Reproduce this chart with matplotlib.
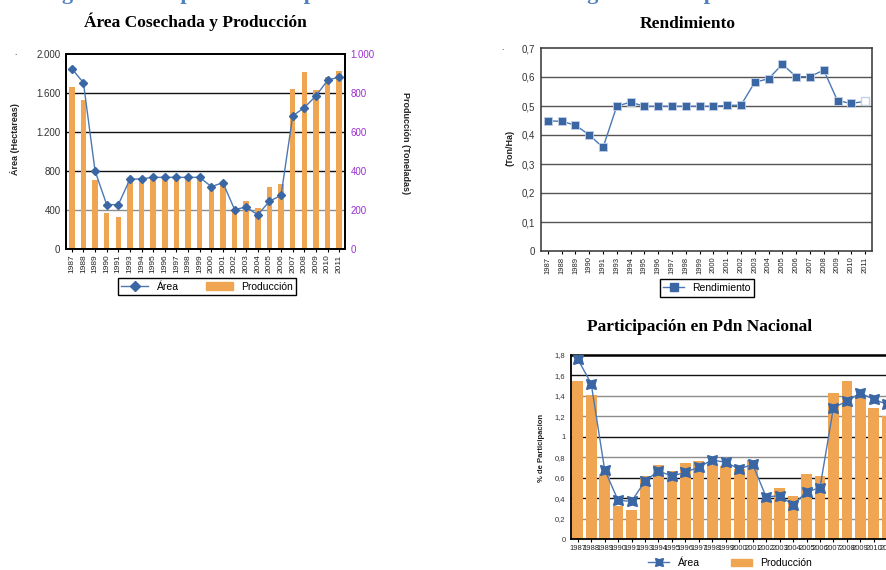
import matplotlib
matplotlib.use('Agg')
import matplotlib.pyplot as plt
from matplotlib.lines import Line2D
from matplotlib.patches import Patch
from matplotlib.ticker import FuncFormatter

years = ['1987', '1988', '1989', '1990', '1991', '1993', '1994', '1995', '1996', '1997', '1998', '1999',
         '2000', '2001', '2002', '2003', '2004', '2005', '2006', '2007', '2008', '2009', '2010', '2011']

# Área cosechada (ha) y producción (t)
area_ha = [1850, 1705, 800, 455, 455, 715, 720, 735, 735, 735, 735, 735,
           640, 680, 405, 430, 350, 490, 550, 1365, 1450, 1570, 1730, 1765]
produccion_ton = [831, 764, 354, 185, 164, 361, 365, 365, 365, 365, 365, 365,
                  320, 332, 202, 246, 212, 316, 332, 821, 909, 817, 882, 913]

# Rendimiento (t/ha)
rendimiento = [0.449, 0.447, 0.434, 0.400, 0.357, 0.500, 0.513, 0.499, 0.499, 0.499, 0.499, 0.499,
               0.499, 0.502, 0.503, 0.582, 0.594, 0.644, 0.601, 0.601, 0.624, 0.518, 0.509, 0.516]

# Participación en la producción nacional (%)
part_area = [1.761, 1.519, 0.678, 0.378, 0.368, 0.567, 0.665, 0.616, 0.652, 0.704, 0.773, 0.750,
             0.685, 0.730, 0.411, 0.424, 0.333, 0.460, 0.502, 1.285, 1.347, 1.428, 1.366, 1.317]
part_produccion = [1.542, 1.405, 0.639, 0.320, 0.280, 0.620, 0.727, 0.668, 0.740, 0.760, 0.725, 0.712,
                   0.680, 0.776, 0.385, 0.499, 0.417, 0.633, 0.613, 1.425, 1.542, 1.392, 1.278, 1.206]

ORANGE = '#F0A553'
BLUE = '#3A66A4'
LINE = '#4A78B5'
PURPLE = '#9B30D0'

plt.rcParams['font.family'] = ['Liberation Sans', 'DejaVu Sans']

W, H = 887, 570
fig = plt.figure(figsize=(W / 100, H / 100), dpi=100)
x = list(range(len(years)))


def box(l, t, r, b):
    # pixel box -> figure fraction
    return [l / W, 1 - b / H, (r - l) / W, (b - t) / H]


def miles(v, pos):
    return f'{v:,.0f}'.replace(',', '.')


def coma(v, pos):
    return f'{v:g}'.replace('.', ',')


serif = dict(family=['Liberation Serif', 'DejaVu Serif'], weight='bold', fontsize=12.5)

# caption cut off at the top of the page
fig.text(42 / W, 1 + 1 / H, 'Figura 8. Comportamiento productivo del cultivo en la región de Sampués',
         color='#4F81BD', fontsize=16, family=['Liberation Serif', 'DejaVu Serif'], weight='bold',
         va='baseline')

# ---- Área Cosechada y Producción ----
ax1 = fig.add_axes(box(66, 54, 345, 249))
ax1a = ax1.twinx()
ax1.bar(x, produccion_ton, width=0.48, color=ORANGE, zorder=2)
for v, c in zip([200, 400, 600, 800], ['#8c8c8c', '#111111', '#111111', '#111111']):
    ax1.axhline(v, color=c, lw=1, zorder=1)
ax1.set_ylim(0, 1000)
ax1.set_yticks(range(0, 1001, 200))
ax1.yaxis.set_major_formatter(FuncFormatter(miles))
ax1.set_xlim(-0.5, len(x) - 0.5)
ax1.set_xticks(x, years, rotation=90, fontsize=6, color='#222222')
ax1.tick_params(axis='x', length=2, pad=2)

ax1a.plot(x, area_ha, color=LINE, lw=1, marker='D', ms=4.5, mfc=BLUE, mec=BLUE, zorder=3)
ax1a.set_ylim(0, 2000)
ax1a.set_yticks(range(0, 2001, 400))
ax1a.yaxis.set_major_formatter(FuncFormatter(miles))

# production ticks on the right, area ticks on the left
ax1.yaxis.tick_right()
ax1a.yaxis.tick_left()
ax1.tick_params(axis='y', colors=PURPLE, labelsize=7, length=0, pad=4)
ax1a.tick_params(axis='y', colors='#333333', labelsize=7, length=0, pad=4)
for a in (ax1, ax1a):
    for s in a.spines.values():
        s.set_color('black')
        s.set_linewidth(1.3)

fig.text(195 / W, 1 - 22 / H, 'Área Cosechada y Producción', ha='center', va='center', **serif)
fig.text(15 / W, 1 - 139 / H, 'Área (Hectareas)', rotation=90, ha='center', va='center',
         fontsize=6.5, weight='bold', color='#222222')
fig.text(406 / W, 1 - 143 / H, 'Producción (Toneladas)', rotation=270, ha='center', va='center',
         fontsize=6.5, weight='bold', color='#222222')
fig.text(15 / W, 1 - 57 / H, '.', fontsize=6, ha='center', va='bottom')

h1 = [Line2D([], [], color=LINE, lw=1, marker='D', ms=5, mfc=BLUE, mec=BLUE), Patch(color=ORANGE)]
lg1 = fig.legend(h1, ['Área', 'Producción'], loc='center', bbox_to_anchor=(207 / W, 1 - 286.5 / H),
                 ncol=2, fontsize=7.5, fancybox=False, edgecolor='black', framealpha=1,
                 handlelength=2.6, handleheight=0.9, columnspacing=2.6, borderpad=0.35)
lg1.get_frame().set_linewidth(1)

# ---- Rendimiento ----
ax2 = fig.add_axes(box(541, 48, 872, 251))
for v in [0.1, 0.2, 0.3, 0.4, 0.5, 0.6]:
    ax2.axhline(v, color='#555555', lw=1, zorder=1)
ax2.plot(x, rendimiento, color=LINE, lw=1, marker='s', ms=6, mfc=BLUE, mec='#c3d0e6', mew=0.6,
         markevery=list(range(len(x) - 1)), zorder=3)
ax2.plot(x[-1:], rendimiento[-1:], ls='none', marker='s', ms=6, mfc='white', mec='#c3d0e6', zorder=3)
ax2.set_ylim(0, 0.7)
ax2.set_yticks([0, 0.1, 0.2, 0.3, 0.4, 0.5, 0.6, 0.7])
ax2.yaxis.set_major_formatter(FuncFormatter(coma))
ax2.tick_params(axis='y', labelsize=7, length=0, pad=4, colors='#333333')
ax2.set_xlim(-0.5, len(x) - 0.5)
ax2.set_xticks(x, years, rotation=90, fontsize=5.5, color='#222222')
ax2.tick_params(axis='x', length=2, pad=2)
for s in ax2.spines.values():
    s.set_color('#333333')
    s.set_linewidth(1.1)

fig.text(688 / W, 1 - 24 / H, 'Rendimiento', ha='center', va='center', **serif)
fig.text(510 / W, 1 - 148 / H, '(Ton/Ha)', rotation=90, ha='center', va='center',
         fontsize=6.5, weight='bold', color='#222222')
fig.text(502 / W, 1 - 52 / H, '.', fontsize=6, ha='center', va='bottom')

h2 = [Line2D([], [], color=LINE, lw=1, marker='s', ms=6, mfc=BLUE, mec=BLUE)]
lg2 = fig.legend(h2, ['Rendimiento'], loc='center', bbox_to_anchor=(707 / W, 1 - 288 / H),
                 fontsize=7.5, fancybox=False, edgecolor='black', framealpha=1,
                 handlelength=2.0, borderpad=0.35)
lg2.get_frame().set_linewidth(1)

# ---- Participación en Pdn Nacional ----
ax3 = fig.add_axes(box(571, 355, 894, 539))
for v, c in zip([0.2, 0.4, 0.6, 0.8, 1.0, 1.2, 1.4, 1.6],
                ['#8c8c8c', '#111111', '#111111', '#8c8c8c', '#111111', '#8c8c8c', '#8c8c8c', '#111111']):
    ax3.axhline(v, color=c, lw=1, zorder=1)
ax3.bar(x, part_produccion, width=0.8, color=ORANGE, zorder=2)
ax3.plot(x, part_area, color=LINE, lw=1, marker=(4, 1, 45), ms=10, mfc=BLUE, mec=BLUE, zorder=3)
ax3.set_ylim(0, 1.8)
ax3.set_yticks([0, 0.2, 0.4, 0.6, 0.8, 1.0, 1.2, 1.4, 1.6, 1.8])
ax3.yaxis.set_major_formatter(FuncFormatter(coma))
ax3.tick_params(axis='y', labelsize=5.5, length=0, pad=4, colors='#333333')
ax3.set_xlim(-0.5, len(x) - 0.5)
ax3.set_xticks(x, years, fontsize=5.5, color='#222222')
ax3.tick_params(axis='x', length=2, pad=2)
for s in ax3.spines.values():
    s.set_color('black')
    s.set_linewidth(1.3)
ax3.spines['top'].set_linewidth(1.8)

fig.text(700 / W, 1 - 327 / H, 'Participación en Pdn Nacional', ha='center', va='center', **serif)
fig.text(542 / W, 1 - 448 / H, '% de Participacion', rotation=90, ha='center', va='center',
         fontsize=5.5, weight='bold', color='#222222')

h3 = [Line2D([], [], color=LINE, lw=1, marker=(4, 1, 45), ms=8, mfc=BLUE, mec=BLUE), Patch(color=ORANGE)]
fig.legend(h3, ['Área', 'Producción'], loc='center', bbox_to_anchor=(730 / W, 1 - 563 / H),
           ncol=2, fontsize=7.5, frameon=False, handlelength=2.0, columnspacing=3.0)

fig.savefig('out.png', dpi=100)
